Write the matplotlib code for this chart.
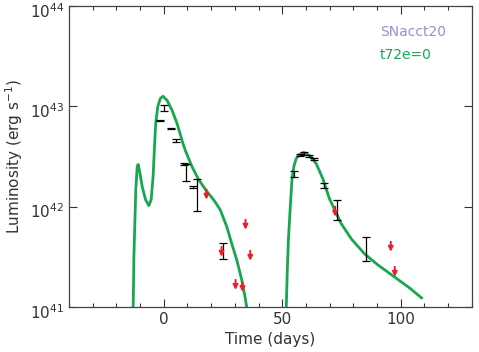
import matplotlib
matplotlib.use("Agg")
import matplotlib.pyplot as plt
import matplotlib.transforms as mtransforms
import numpy as np

# Model curve (t72e=0)
model_t1 = [-12.9, -12.6, -12.2, -11.8, -11.2, -10.8, -10.1, -9.1, -7.7, -6.3, -5.3, -4.5, -3.9, -3.4, -2.5,
            -1.4, -0.3, 1.4, 3.5, 5.6, 8.1, 9.1, 11.9, 14.7, 18.2, 21.0, 23.8, 26.6, 28.7, 30.8, 32.9, 34.3, 35.0]
model_logL1 = [41.00, 41.50, 41.84, 42.17, 42.40, 42.42, 42.34, 42.20, 42.07, 42.01, 42.07, 42.30, 42.60, 42.83, 43.00,
               43.08, 43.10, 43.06, 42.96, 42.83, 42.63, 42.56, 42.40, 42.27, 42.15, 42.07, 41.97, 41.80, 41.63, 41.47,
               41.27, 41.10, 41.00]
model_t2 = [51.7, 52.1, 52.6, 53.4, 54.1, 54.9, 55.9, 57.3, 59.1, 61.5, 64.3, 67.1, 69.9, 72.1, 74.9, 79.1,
            84.7, 90.3, 97.3, 103.7, 108.8]
model_logL2 = [41.00, 41.34, 41.67, 42.00, 42.27, 42.40, 42.48, 42.52, 42.54, 42.51, 42.43, 42.28, 42.08, 41.97,
               41.83, 41.68, 41.53, 41.42, 41.30, 41.19, 41.09]

# Detections
det_t = [-1.7, 0.0, 2.9, 5.0, 8.4, 9.5, 12.2, 14.1, 24.8, 55.0, 57.6, 59.2, 61.3, 63.4, 67.6, 73.1, 85.3]
det_logL = [42.86, 42.98, 42.78, 42.66, 42.42, 42.34, 42.20, 42.12, 41.56, 42.33, 42.51, 42.53, 42.50, 42.47, 42.21, 41.97, 41.58]
det_err = [0.005, 0.03, 0.005, 0.015, 0.01, 0.08, 0.01, 0.16, 0.08, 0.03, 0.01, 0.015, 0.01, 0.01, 0.025, 0.10, 0.12]

# Upper limits
ul_t = [18.0, 24.4, 30.3, 33.2, 34.5, 36.5, 72.3, 95.8, 97.5, 32.2, 40.2, 96.6]
ul_logL = [42.17, 41.60, 41.27, 41.25, 41.87, 41.56, 42.0, 41.65, 41.40, 41.05, 41.05, 41.02]

ytick_vals = [1e41, 1e42, 1e43, 1e44]
ytick_labels = [r'$10^{41}$', r'$10^{42}$', r'$10^{43}$', r'$10^{44}$']
xtick_vals = [0, 50, 100]

green = '#17a84f'

fig = plt.figure(figsize=(4.79, 3.52), dpi=100)
ax = fig.add_axes([0.144, 0.128, 0.841, 0.855])

ax.plot(model_t1, 10**np.array(model_logL1), color=green, lw=2.0, solid_joinstyle='round')
ax.plot(model_t2, 10**np.array(model_logL2), color=green, lw=2.0, solid_joinstyle='round')

dl = np.array(det_logL)
de = np.array(det_err)
y = 10**dl
yerr = np.vstack([y - 10**(dl - de), 10**(dl + de) - y])
ax.errorbar(det_t, y, yerr=yerr, fmt='none', ecolor='black', elinewidth=0.9, capsize=3, capthick=0.9)

for t, l in zip(ul_t, ul_logL):
    ax.annotate('', xy=(t, 10**(l - 0.1)), xytext=(t, 10**l),
                arrowprops=dict(arrowstyle='-|>', color='#e8202a', lw=1.4, mutation_scale=7,
                                shrinkA=0, shrinkB=0), annotation_clip=True)

ax.set_yscale('log')
ax.set_xlim(-40, 130)
ax.set_ylim(1e41, 1e44)
ax.set_xticks(xtick_vals)
ax.set_xticks(np.arange(-40, 131, 10), minor=True)
ax.set_yticks(ytick_vals)
ax.set_yticklabels(ytick_labels)
ax.yaxis.set_minor_locator(matplotlib.ticker.NullLocator())
ax.tick_params(which='both', direction='in', top=True, right=True, labelsize=11, colors='#333333')
ax.tick_params(which='major', length=6, width=0.8)
ax.tick_params(which='minor', length=3, width=0.8)
offset = mtransforms.ScaledTranslation(0, -4 / 100, fig.dpi_scale_trans)
for lab in ax.get_yticklabels():
    lab.set_transform(lab.get_transform() + offset)
for s in ax.spines.values():
    s.set_color('#444444')
    s.set_linewidth(0.9)
ax.set_xlabel('Time (days)', fontsize=11, color='#333333')
ax.set_ylabel(r'Luminosity (erg s$^{-1}$)', fontsize=11, color='#333333', labelpad=3)

ax.text(0.772, 0.914, 'SNacct20', transform=ax.transAxes, color='#9a8fd0', fontsize=10, ha='left', va='center')
ax.text(0.772, 0.838, 't72e=0', transform=ax.transAxes, color=green, fontsize=10, ha='left', va='center')

fig.savefig('out.png', dpi=100)
